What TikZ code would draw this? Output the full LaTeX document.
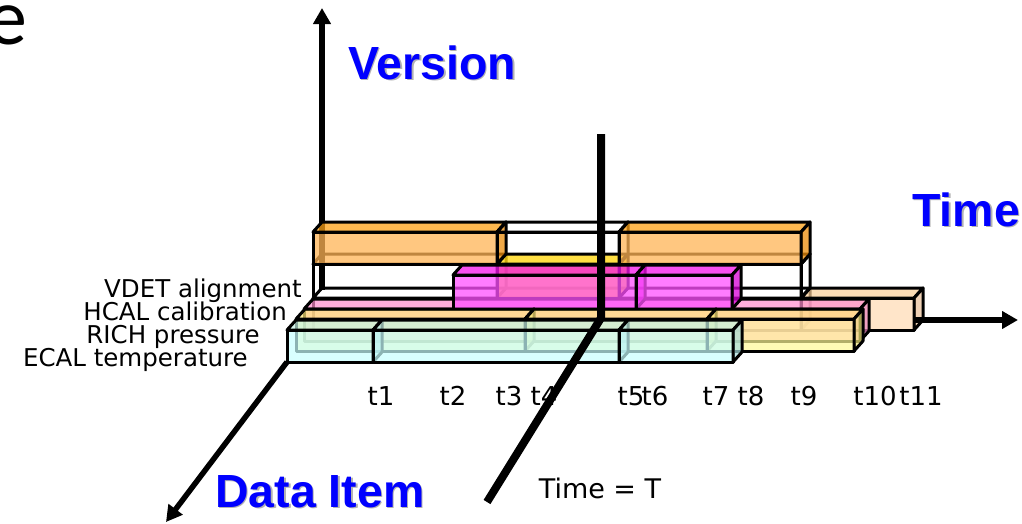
\documentclass[tikz,border=0pt]{standalone}
\usepackage{fontspec}
\setmainfont{DejaVu Sans}
\newfontfamily\titlefont{Liberation Sans}
\newfontfamily\slidefont{Carlito}
\usetikzlibrary{arrows.meta}

% face colours of the bars (front / top / side)
\definecolor{cyanF}{RGB}{200,255,255}\definecolor{cyanT}{RGB}{196,240,226}\definecolor{cyanS}{RGB}{165,220,220}
\definecolor{yellowF}{RGB}{255,250,150}\definecolor{yellowT}{RGB}{255,232,120}\definecolor{yellowS}{RGB}{240,230,120}
\definecolor{pinkF}{RGB}{255,150,205}\definecolor{pinkT}{RGB}{255,140,205}\definecolor{pinkS}{RGB}{235,130,190}
\definecolor{peachF}{RGB}{255,218,178}\definecolor{peachT}{RGB}{250,205,150}\definecolor{peachS}{RGB}{232,190,150}
\definecolor{magentaF}{RGB}{255,80,255}\definecolor{magentaT}{RGB}{245,20,235}\definecolor{magentaS}{RGB}{215,0,215}
\definecolor{orangeF}{RGB}{255,180,85}\definecolor{orangeT}{RGB}{252,160,20}\definecolor{orangeS}{RGB}{235,140,10}
\definecolor{goldF}{RGB}{255,215,0}\definecolor{goldT}{RGB}{255,215,20}\definecolor{goldS}{RGB}{235,195,0}
\definecolor{labelblue}{RGB}{0,0,255}

\tikzset{
  edge/.style={draw=black, line width=3pt, line join=round},
  blank-f/.style={}, blank-t/.style={}, blank-s/.style={},
  cyan-f/.style={fill=cyanF, fill opacity=.7}, cyan-t/.style={fill=cyanT, fill opacity=.7}, cyan-s/.style={fill=cyanS, fill opacity=.7},
  yellow-f/.style={fill=yellowF, fill opacity=.7}, yellow-t/.style={fill=yellowT, fill opacity=.7}, yellow-s/.style={fill=yellowS, fill opacity=.7},
  pink-f/.style={fill=pinkF, fill opacity=.7}, pink-t/.style={fill=pinkT, fill opacity=.7}, pink-s/.style={fill=pinkS, fill opacity=.7},
  peach-f/.style={fill=peachF, fill opacity=.7}, peach-t/.style={fill=peachT, fill opacity=.7}, peach-s/.style={fill=peachS, fill opacity=.7},
  magenta-f/.style={fill=magentaF, fill opacity=.75}, magenta-t/.style={fill=magentaT, fill opacity=.75}, magenta-s/.style={fill=magentaS, fill opacity=.75},
  orange-f/.style={fill=orangeF, fill opacity=.75}, orange-t/.style={fill=orangeT, fill opacity=.75}, orange-s/.style={fill=orangeS, fill opacity=.75},
  gold-f/.style={fill=goldF, fill opacity=.8}, gold-t/.style={fill=goldT, fill opacity=.8}, gold-s/.style={fill=goldS, fill opacity=.8},
  axis/.style={line width=5.5pt, -{Triangle[width=17pt,length=16pt]}},
  nowline/.style={line width=8pt, line join=miter},
  axistitle/.style={font=\titlefont\bfseries\fontsize{46.5}{50}\selectfont, text=labelblue, inner sep=0pt},
  titleshadow/.style={font=\titlefont\bfseries\fontsize{46.5}{50}\selectfont, text=black!30, inner sep=0pt},
  itemlabel/.style={font=\fontsize{24.5}{28}\selectfont, anchor=base east, inner sep=0pt},
  ticklabel/.style={font=\fontsize{26}{30}\selectfont, anchor=base, inner sep=0pt},
}

% a bar drawn as a cube: left x, right x, top y, bottom y, colour family
\def\dx{9}\def\dy{10}
\newcommand\drawbar[5]{%
  \path[edge,#5-f] (#1,#3) rectangle (#2,#4);
  \path[edge,#5-t] (#1,#3) -- ({#1+\dx},{#3-\dy}) -- ({#2+\dx},{#3-\dy}) -- (#2,#3) -- cycle;
  \path[edge,#5-s] (#2,#3) -- ({#2+\dx},{#3-\dy}) -- ({#2+\dx},{#4-\dy}) -- (#2,#4) -- cycle;
}

\begin{document}
\begin{tikzpicture}[x=1pt,y=-1pt]
\useasboundingbox (0,0) rectangle (1022,523);

% axis end points
\coordinate (vfoot) at (322,290);
\coordinate (vtip) at (322,8);
\coordinate (tfoot) at (914,320);
\coordinate (ttip) at (1018,320);
\coordinate (dfoot) at (287,362);
\coordinate (dtip) at (166,522);
\coordinate (nowtop) at (601,134);
\coordinate (nowknee) at (601,318);
\coordinate (nowbot) at (487,502);

% version axis, behind the bars
\draw[axis] (vfoot) -- (vtip);

% VDET alignment (back row)
\drawbar{313}{801}{298}{330}{blank}
\drawbar{801}{914}{298}{330}{peach}
\drawbar{313}{497}{264}{298}{blank}
\drawbar{497}{619}{264}{298}{gold}
\drawbar{619}{801}{264}{298}{blank}
\drawbar{313}{497}{232}{264}{orange}
\drawbar{497}{619}{232}{264}{blank}
\drawbar{619}{801}{232}{264}{orange}

% HCAL calibration
\drawbar{304}{860}{309}{341}{pink}
\drawbar{453}{636}{275}{309}{magenta}
\drawbar{636}{732}{275}{309}{magenta}

% RICH pressure
\drawbar{296}{525}{319}{351}{yellow}
\drawbar{525}{707}{319}{351}{yellow}
\drawbar{707}{854}{319}{351}{yellow}

% ECAL temperature (front row)
\drawbar{287}{373}{330}{362}{cyan}
\drawbar{373}{619}{330}{362}{cyan}
\drawbar{619}{733}{330}{362}{cyan}

% time and data item axes
\draw[axis] (tfoot) -- (ttip);
\draw[axis] (dfoot) -- (dtip);

% the cut at time T
\draw[nowline] (nowtop) -- (nowknee) -- (nowbot);

% axis titles
\node[titleshadow, anchor=base west] (versionsh) at (349.5,80.5) {Version};
\node[axistitle, anchor=base west] (version) at (348,79) {Version};
\node[titleshadow, anchor=base west] (timesh) at (913.5,227.5) {Time};
\node[axistitle, anchor=base west] (time) at (912,226) {Time};
\node[titleshadow, anchor=base west] (itemsh) at (216.5,508.5) {Data Item};
\node[axistitle, anchor=base west] (item) at (215,507) {Data Item};

% data item names
\node[itemlabel] (vdet) at (302,297) {VDET alignment};
\node[itemlabel] (hcal) at (287,320) {HCAL calibration};
\node[itemlabel] (rich) at (260,343) {RICH pressure};
\node[itemlabel] (ecal) at (248,366) {ECAL temperature};

% time stamps
\node[ticklabel] (t1) at (381,405) {t1};
\node[ticklabel] (t2) at (453,405) {t2};
\node[ticklabel] (t3) at (509,405) {t3};
\node[ticklabel] (t4) at (544,405) {t4};
\node[ticklabel] (t5) at (631,405) {t5};
\node[ticklabel] (t6) at (655,405) {t6};
\node[ticklabel] (t7) at (716,405) {t7};
\node[ticklabel] (t8) at (751,405) {t8};
\node[ticklabel] (t9) at (804,405) {t9};
\node[ticklabel] (t10) at (875,405) {t10};
\node[ticklabel] (t11) at (921,405) {t11};

\node[font=\fontsize{27}{30}\selectfont, anchor=base, inner sep=0pt] (nowlabel) at (600,498) {Time = T};

% leftover letter at the top left
\node[font=\slidefont\fontsize{80}{80}\selectfont, anchor=base east, inner sep=0pt] (corner) at (28,44) {e};
\end{tikzpicture}
\end{document}
